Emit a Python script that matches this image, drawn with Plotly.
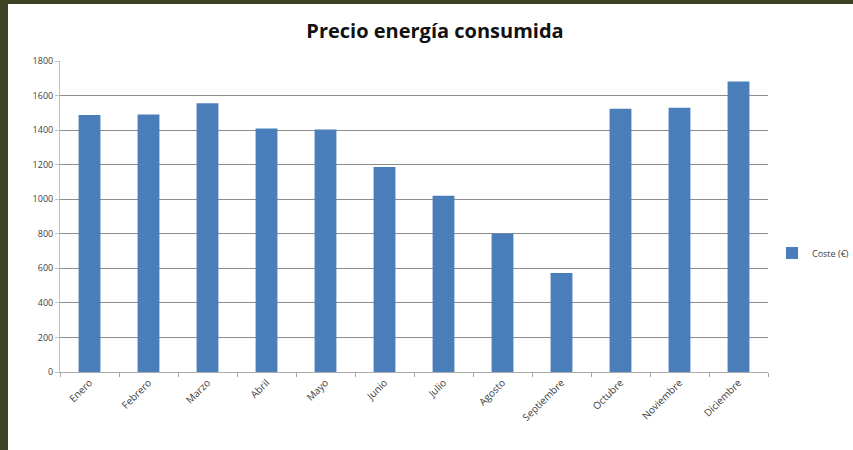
import plotly.graph_objects as go

meses = ["Enero", "Febrero", "Marzo", "Abril", "Mayo", "Junio", "Julio",
         "Agosto", "Septiembre", "Octubre", "Noviembre", "Diciembre"]
coste = [1487, 1491, 1555, 1410, 1404, 1186, 1020, 802, 573, 1523, 1530, 1681]
y_ticks = [0, 200, 400, 600, 800, 1000, 1200, 1400, 1600, 1800]

W, H = 853, 450
ml, mr, mt, mb = 60, 85, 61, 78
pw, ph = W - ml - mr, H - mt - mb

def px(x):
    return (x - ml) / pw

def py(y):
    return (H - mb - y) / ph

fig = go.Figure()
fig.add_trace(go.Bar(
    x=meses, y=coste, name="Coste (€)",
    marker=dict(color="#4A7EBB", line=dict(width=0)),
    width=0.37,
))

border = "#3C4322"
fig.update_layout(
    width=W, height=H,
    margin=dict(l=ml, r=mr, t=mt, b=mb, autoexpand=False),
    paper_bgcolor="white", plot_bgcolor="white",
    title=dict(text="<b>Precio energía consumida</b>", xref="container", x=435 / W,
               xanchor="center", yref="container", y=1 - 31 / H, yanchor="middle",
               font=dict(family="Open Sans", size=20, color="#111111")),
    font=dict(family="Open Sans", color="#404040"),
    showlegend=True,
    legend=dict(xref="container", x=772 / W, yref="container", y=1 - 253 / H,
                xanchor="left", yanchor="middle",
                font=dict(size=9, color="#404040"), itemwidth=30,
                bgcolor="rgba(0,0,0,0)"),
    yaxis=dict(range=[0, 1800], tickvals=y_ticks, showgrid=True,
               gridcolor="#8C8C8C", gridwidth=1, zeroline=False,
               showline=True, linecolor="#B8C4D8", linewidth=1,
               ticks="outside", ticklen=4, tickcolor="#B8C4D8",
               tickfont=dict(size=9, color="#404040")),
    xaxis=dict(showline=True, linecolor="#A8A8A8", linewidth=1,
               ticks="outside", ticklen=4, tickcolor="#A8A8A8",
               tickson="boundaries", tickangle=-45,
               tickfont=dict(size=10, color="#404040")),
    shapes=[
        dict(type="rect", xref="paper", yref="paper",
             x0=px(0), x1=px(8), y0=py(H), y1=py(0),
             fillcolor=border, line=dict(width=0), layer="above"),
        dict(type="rect", xref="paper", yref="paper",
             x0=px(0), x1=px(W), y0=py(4), y1=py(0),
             fillcolor=border, line=dict(width=0), layer="above"),
    ],
)

fig.write_html("out.html")
